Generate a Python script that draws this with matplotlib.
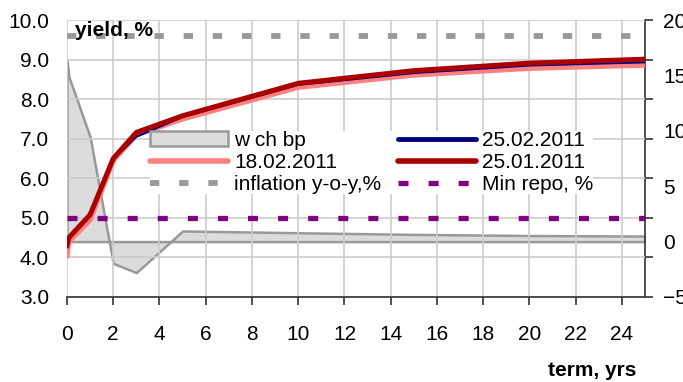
import numpy as np
import matplotlib.pyplot as plt
from matplotlib.lines import Line2D

plt.rcParams['font.family'] = ['Liberation Sans', 'DejaVu Sans']
plt.rcParams['font.size'] = 15

# term structure, years
terms = [0, 0.08, 1, 2, 3, 5, 10, 15, 20, 25]

# yields, %
y_250211 = [4.40, 4.50, 5.05, 6.48, 7.05, 7.55, 8.36, 8.66, 8.85, 8.93]
y_180211 = [4.05, 4.40, 4.95, 6.45, 7.10, 7.50, 8.30, 8.61, 8.78, 8.86]
y_250111 = [4.30, 4.50, 5.08, 6.50, 7.16, 7.58, 8.40, 8.72, 8.91, 9.01]

# weekly change, bp (right axis)
wch_bp = [16.4, 14.9, 9.45, -1.96, -2.8, 0.96, 0.8, 0.65, 0.55, 0.5]

inflation = 9.6
min_repo = 5.0

W, H = 683, 382
fig = plt.figure(figsize=(W / 100, H / 100), dpi=100)
ax = fig.add_axes([67 / W, 1 - 297 / H, (645 - 67) / W, (297 - 20) / H])
ax2 = ax.twinx()

# area on the secondary axis sits behind everything else
ax.set_zorder(ax2.get_zorder() + 1)
ax.patch.set_visible(False)
ax2.set_facecolor('white')

area = ax2.fill_between(terms, wch_bp, 0, facecolor='#dcdcdc', edgecolor='#999999',
                        linewidth=1.8, label='w ch bp')

ax.plot([0, 25], [inflation, inflation], color='#999999', lw=4.2,
        dashes=(1.6, 3.4), dash_capstyle='butt', label='inflation y-o-y,%')
ax.plot([0, 25], [min_repo, min_repo], color='#800080', lw=3.8,
        dashes=(1.9, 3.8), dash_capstyle='butt', label='Min repo, %')
ax.plot(terms, y_180211, color='#ff8080', lw=3.8, label='18.02.2011')
ax.plot(terms, y_250211, color='#000080', lw=1.5, label='25.02.2011')
ax.plot(terms, y_250111, color='#aa0000', lw=3.6, label='25.01.2011')

ax.set_xlim(0, 25)
ax.set_ylim(3, 10)
ax2.set_ylim(-5, 20)
ax.set_xticks(np.arange(0, 25, 2))
ax.set_yticks(np.arange(3, 10.5, 1))
ax.yaxis.set_major_formatter(plt.FormatStrFormatter('%.1f'))
ax2.set_yticks(np.arange(-5, 21, 5))

ax.grid(True, color='#cccccc', lw=1.2)
for s in ['top', 'left']:
    ax.spines[s].set_visible(False)
    ax2.spines[s].set_visible(False)
ax.spines['bottom'].set_color('#333333')
ax.spines['bottom'].set_linewidth(1.2)
ax2.spines['right'].set_color('#333333')
ax2.spines['right'].set_linewidth(1.2)
ax.spines['right'].set_visible(False)
ax2.spines['bottom'].set_visible(False)

ax.tick_params(axis='x', direction='out', length=6, width=1.2, color='#333333', pad=14)
ax.tick_params(axis='y', left=False, right=True, labelright=False, length=6,
               width=1.2, color='#333333', pad=7)
ax2.tick_params(axis='y', length=0, pad=13)

fig.text(75 / W, 1 - 30 / H, 'yield, %', fontweight='bold', va='center', ha='left')
fig.text(636 / W, 1 - 370 / H, 'term, yrs', fontweight='bold', va='center', ha='right')

handles = [area,
           Line2D([], [], color='#ff8080', lw=4, solid_capstyle='round'),
           Line2D([], [], color='#999999', lw=4.2, dashes=(1.6, 3.4), dash_capstyle='butt'),
           Line2D([], [], color='#000080', lw=3.5, solid_capstyle='round'),
           Line2D([], [], color='#aa0000', lw=4, solid_capstyle='round'),
           Line2D([], [], color='#800080', lw=3.8, dashes=(1.9, 3.8), dash_capstyle='butt')]
labels = ['w ch bp', '18.02.2011', 'inflation y-o-y,%',
          '25.02.2011', '25.01.2011', 'Min repo, %']
leg = ax.legend(handles, labels, ncol=2, loc='upper left',
                bbox_to_anchor=(150 / W, 1 - 131 / H), bbox_transform=fig.transFigure,
                frameon=True, facecolor='white', edgecolor='none', framealpha=1,
                fancybox=False, borderpad=0.0, handlelength=3.75, handletextpad=0.3,
                columnspacing=0.78, labelspacing=0.15, borderaxespad=0)
leg.set_zorder(10)

fig.savefig('out.png', dpi=100)
